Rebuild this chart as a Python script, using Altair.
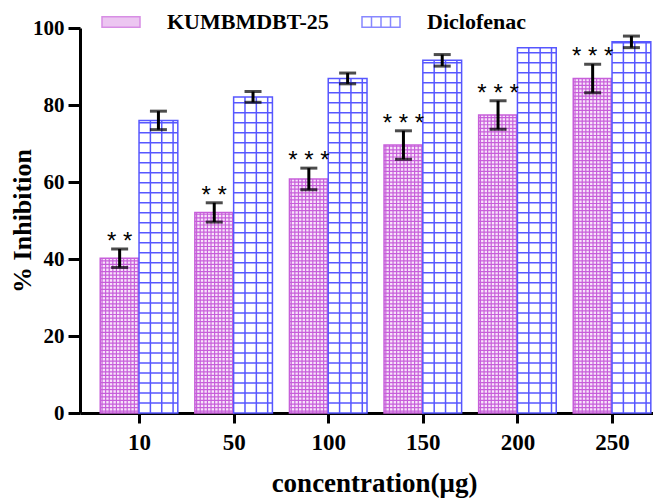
import json
import altair as alt
import pandas as pd

# values
conc = ["10", "50", "100", "150", "200", "250"]
series = ["KUMBMDBT-25", "Diclofenac"]
kumb = [40.2, 52.1, 60.8, 69.6, 77.4, 86.9]
kumb_err = [2.4, 2.5, 2.8, 3.7, 3.7, 3.7]
dicl = [76.0, 82.1, 86.9, 91.6, 94.9, 96.4]
dicl_err = [2.4, 1.4, 1.4, 1.5, 0.0, 1.5]
stars = ["* *", "* *", "* * *", "* * *", "* * *", "* * *"]

SERIF = "Liberation Serif"
MAG = "#c75fda"
MAG_LIGHT = "#f8e4fa"
BLUE = "#5757ff"
HALF = 0.41  # bar width in group units

rows = []
for i, c in enumerate(conc):
    rows.append(dict(conc=c, idx=i, series=series[0], value=kumb[i], err=kumb_err[i],
                     star=stars[i], x0=i - HALF, x1=i))
    rows.append(dict(conc=c, idx=i, series=series[1], value=dicl[i], err=dicl_err[i],
                     star="", x0=i, x1=i + HALF))
df = pd.DataFrame(rows)
df["xc"] = (df["x0"] + df["x1"]) / 2
df["lo"] = df["value"] - df["err"]
df["hi"] = df["value"] + df["err"]

xscale = alt.Scale(domain=[-0.624, 5.433], nice=False, zero=False)
yscale = alt.Scale(domain=[0, 100], nice=False)

xaxis = alt.Axis(
    values=list(range(len(conc))),
    labelExpr=json.dumps(conc) + "[datum.value]",
    title="concentration(μg)", grid=False,
    tickSize=10, labelPadding=8, labelFontSize=23,
    titleFontSize=27, titleY=78, titleX=294, titleBaseline="alphabetic",
)
yaxis = alt.Axis(
    values=[0, 20, 40, 60, 80, 100], title="% Inhibition", grid=False,
    tickSize=12, labelPadding=4, labelFontSize=21,
    titleFontSize=26, titleX=-50, titleBaseline="alphabetic",
)


def X(field):
    return alt.X(field, type="quantitative", scale=xscale, axis=xaxis)


def Y(field):
    return alt.Y(field, type="quantitative", scale=yscale, axis=yaxis)


base = alt.Chart(df)
kb = base.transform_filter(alt.datum.series == series[0])
db = base.transform_filter(alt.datum.series == series[1])

# KUMBMDBT-25 bars: light fill + fine magenta lattice (checker look)
k_fill = kb.mark_rect(fill=MAG_LIGHT).encode(x=X("x0"), x2="x1", y=Y("value"), y2=alt.datum(0))
k_h = kb.transform_calculate(
    ys="sequence(0.47, datum.value, 0.93)"
).transform_flatten(["ys"]).mark_rule(color=MAG, strokeWidth=1.2).encode(
    x=X("x0"), x2="x1", y=Y("ys")
)
k_v = kb.transform_calculate(
    xs="sequence(datum.x0 + 0.019, datum.x1, 0.038)"
).transform_flatten(["xs"]).mark_rule(color=MAG, strokeWidth=1.2).encode(
    x=X("xs"), y=Y("value"), y2=alt.datum(0)
)
k_edge = kb.mark_rect(fillOpacity=0, stroke=MAG, strokeWidth=1.5).encode(
    x=X("x0"), x2="x1", y=Y("value"), y2=alt.datum(0)
)

# Diclofenac bars: white with blue grid
d_fill = db.mark_rect(fill="white", stroke=BLUE, strokeWidth=1.5).encode(
    x=X("x0"), x2="x1", y=Y("value"), y2=alt.datum(0)
)
d_h = db.transform_calculate(
    ys="sequence(2.6, datum.value, 2.6)"
).transform_flatten(["ys"]).mark_rule(color=BLUE, strokeWidth=1.5).encode(
    x=X("x0"), x2="x1", y=Y("ys")
)
d_v = db.transform_calculate(
    xs="sequence(datum.x0 + 0.12, datum.x1 - 0.02, 0.12)"
).transform_flatten(["xs"]).mark_rule(color=BLUE, strokeWidth=1.5).encode(
    x=X("xs"), y=Y("value"), y2=alt.datum(0)
)

# error bars
eb = base.transform_filter("datum.err > 0")
err_line = eb.mark_rule(color="black", strokeWidth=3).encode(x=X("xc"), y=Y("lo"), y2="hi")
caps = eb.transform_fold(["lo", "hi"], as_=["end", "yv"]).mark_tick(
    color="black", thickness=3, size=17, orient="horizontal"
).encode(x=X("xc"), y=Y("yv"))

# significance stars
star_text = kb.mark_text(
    font="Liberation Sans", fontSize=24, baseline="alphabetic", align="center", color="black"
).encode(x=X("xc"), y=Y("hi"), text="star:N")

# legend (no marks drawn, only scales)
rect_path = "M-1,-0.27H1V0.27H-1Z"
grid_path = "M-1,-0.27H1V0.27H-1Z M-0.5,-0.27V0.27 M0,-0.27V0.27 M0.5,-0.27V0.27"
leg = alt.Legend(
    title=None, orient="none", legendX=21, legendY=-26, direction="horizontal",
    symbolSize=1444, symbolStrokeWidth=1.5, labelFont=SERIF, labelFontWeight="bold",
    labelFontSize=22, labelColor="black", labelOffset=26, columnPadding=30, padding=0,
    labelLimit=0,
)
legend_layer = base.transform_filter("false").mark_point(filled=True, strokeWidth=1.5).encode(
    x=X("xc"), y=Y("value"),
    fill=alt.Fill("series:N", scale=alt.Scale(domain=series, range=["#d98be4", "white"]), legend=leg),
    stroke=alt.Stroke("series:N", scale=alt.Scale(domain=series, range=[MAG, BLUE]), legend=leg),
    shape=alt.Shape("series:N", scale=alt.Scale(domain=series, range=[rect_path, grid_path]), legend=leg),
)

chart = alt.layer(
    k_fill, k_h, k_v, k_edge, d_fill, d_h, d_v, err_line, caps, star_text, legend_layer
).properties(
    width=573, height=385,
    autosize=alt.AutoSizeParams(type="none"),
    padding={"left": 72, "top": 20, "right": 0, "bottom": 86},
).configure_view(
    strokeWidth=0
).configure_axis(
    domainColor="black", domainWidth=3, tickColor="black", tickWidth=3,
    labelFont=SERIF, labelFontWeight="bold", labelColor="black",
    titleFont=SERIF, titleFontWeight="bold", titleColor="black",
)

chart.save("out.html", embed_options={"renderer": "svg", "actions": False})
